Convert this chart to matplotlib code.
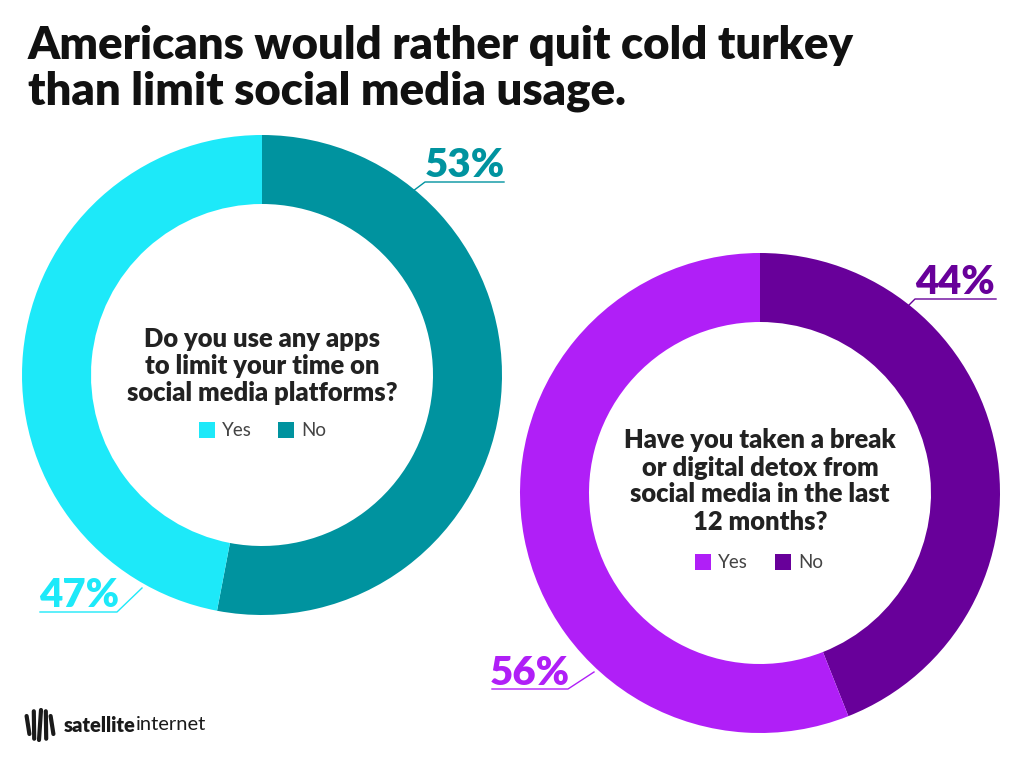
import matplotlib
matplotlib.use("Agg")
import matplotlib.pyplot as plt
from matplotlib.patches import Rectangle
import numpy as np

# data
q1_labels = ["Yes", "No"]
q1_values = [47, 53]
q2_labels = ["Yes", "No"]
q2_values = [56, 44]

q1_text = "Do you use any apps\nto limit your time on\nsocial media platforms?"
q2_text = "Have you taken a break\nor digital detox from\nsocial media in the last\n12 months?"
title = "Americans would rather quit cold turkey\nthan limit social media usage."

q1_colors = ["#1de9f9", "#00939f"]
q2_colors = ["#b01ff7", "#68009a"]

W, H = 1024, 768
fig = plt.figure(figsize=(W / 100, H / 100), dpi=100)
ax = fig.add_axes([0, 0, 1, 1])

cond = ["Lato", "DejaVu Sans"]
body = ["Lato", "DejaVu Sans"]


def Y(py):
    # pixel row -> data y
    return H - py


def donut(values, colors, cx, cy):
    # No segment goes clockwise from the top, Yes the rest
    ax.pie([values[1], values[0]], colors=[colors[1], colors[0]],
           startangle=90, counterclock=False, center=(cx, Y(cy)),
           radius=240, wedgeprops=dict(width=69, linewidth=0))


donut(q1_values, q1_colors, 262, 375)
donut(q2_values, q2_colors, 760, 493)

ax.set_xlim(0, W)
ax.set_ylim(0, H)
ax.axis("off")

renderer = fig.canvas.get_renderer()


def fit(t, width_px):
    bb = t.get_window_extent(renderer)
    t.set_fontsize(t.get_fontsize() * width_px / bb.width)


# title
t = ax.text(28, Y(25), title, fontsize=32, fontweight="heavy", family=cond,
            color="#111111", va="top", ha="left", linespacing=1.12)
fit(t, 828)

# percent labels with leader lines
def pct_label(val, color, tx, ty, line_pts):
    lt = ax.text(tx, Y(ty), f"{val}%", fontsize=30, fontweight="heavy",
                 family=cond, color=color, ha="center", va="baseline")
    fit(lt, 80)
    xs = [p[0] for p in line_pts]
    ys = [Y(p[1]) for p in line_pts]
    ax.plot(xs, ys, color=color, lw=1)


pct_label(q1_values[1], q1_colors[1], 465, 177, [(405, 197), (425, 182), (504, 182)])
pct_label(q1_values[0], q1_colors[0], 79, 607, [(40, 612), (117, 612), (142, 588)])
pct_label(q2_values[1], q2_colors[1], 955, 294, [(902, 312), (915, 299), (996, 299)])
pct_label(q2_values[0], q2_colors[0], 530, 685, [(492, 689), (568, 689), (594, 672)])

# questions
qt = ax.text(262, Y(366), q1_text, fontsize=18, fontweight="heavy", family=body,
             color="#222222", ha="center", va="center", linespacing=1.15)
fit(qt, 270)
qt2 = ax.text(760, Y(481), q2_text, fontsize=18, fontweight="heavy", family=body,
              color="#222222", ha="center", va="center", linespacing=1.15)
qt2.set_fontsize(qt.get_fontsize())


def legend(labels, colors, xs, cy):
    for lab, col, x in zip(labels, colors, xs):
        ax.add_patch(Rectangle((x, Y(cy) - 8), 16, 16, color=col, lw=0))
        ax.text(x + 23, Y(cy), lab, fontsize=13.5, family=body, color="#444444",
                ha="left", va="center")


legend(q1_labels, q1_colors, [199, 278], 430)
legend(q2_labels, q2_colors, [695, 775], 562)

# logo: striped globe
lx, ly = 40, Y(725)
for off in [-12, -6, 0, 6, 12]:
    tt = np.linspace(-1, 1, 30)
    half = np.sqrt(max(15 ** 2 - off ** 2, 0))
    ys = ly + tt * half
    xs = lx + off + 3 * tt * (1 - abs(off) / 15) - 2 * tt
    ax.plot(xs, ys, color="#1a1a1a", lw=3, solid_capstyle="round")
s1 = ax.text(64, Y(725), "satellite", fontsize=14.5, fontweight="heavy", family=body,
             color="#1a1a1a", ha="left", va="center")
bb = s1.get_window_extent(renderer)
ax.text(64 + bb.width, Y(725), "internet", fontsize=14.5, family=body,
        color="#1a1a1a", ha="left", va="center")

fig.savefig("out.png", dpi=100)
